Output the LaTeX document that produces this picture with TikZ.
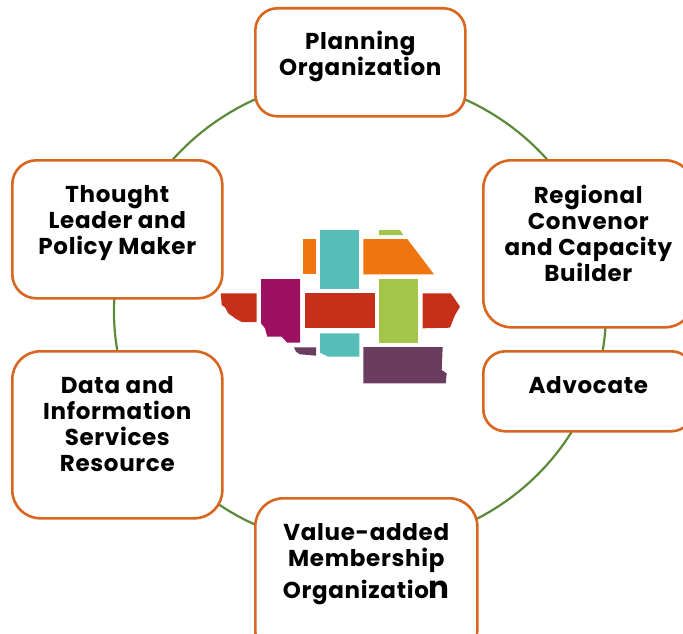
\documentclass[tikz,border=0pt]{standalone}
\usepackage{fontspec}
\setmainfont{Poppins}[BoldFont=Poppins Bold,BoldFeatures={LetterSpace=3}]
\definecolor{edgeorange}{HTML}{D9661F}
\definecolor{ringgreen}{HTML}{5A8A3A}
\definecolor{logored}{HTML}{C62F18}
\definecolor{logopurple}{HTML}{9D1060}
\definecolor{logoteal}{HTML}{57BDB9}
\definecolor{logogreen}{HTML}{A3C64A}
\definecolor{logoorange}{HTML}{F0750F}
\definecolor{logoplum}{HTML}{6A3D60}
\newcommand{\boxtext}[4][25pt]{\parbox[c][#3][t]{#2}{\centering\vspace{#1}\fontsize{23}{26}\selectfont\bfseries #4\par}}
\tikzset{
  x=1pt,y=-1pt,
  rolebox/.style={draw=edgeorange,line width=2.6pt,fill=white,inner sep=0pt,anchor=north west},
  ring/.style={draw=ringgreen,line width=2.2pt}
}
\begin{document}
\begin{tikzpicture}
\useasboundingbox (0,0) rectangle (683,634);
\coordinate (hub) at (360,312);
\draw[ring] (hub) ellipse [x radius=246pt,y radius=235pt];
\node[rolebox,rounded corners=22pt] (planning) at (254,7) {\boxtext[23pt]{210pt}{108pt}{Planning\\Organization}};
\node[rolebox,rounded corners=28pt] (regional) at (482,159) {\boxtext{210pt}{167pt}{Regional\\Convenor\\and Capacity\\Builder}};
\node[rolebox,rounded corners=22pt] (advocate) at (482,350) {\boxtext{210pt}{80pt}{Advocate}};
\node[rolebox,rounded corners=24pt] (thought) at (11,159) {\boxtext{210pt}{138pt}{Thought\\Leader and\\Policy Maker}};
\node[rolebox,rounded corners=28pt] (data) at (11,350) {\boxtext{210pt}{167pt}{Data and\\Information\\Services\\Resource}};
\node[rolebox,rounded corners=28pt] (value) at (254,497) {\boxtext{222pt}{160pt}{Value-added\\Membership\\[6pt]Organizatio{\fontsize{31}{26}\selectfont n}}};
% logo
\fill[logoorange] (302.7,239) rectangle (316,274.3);
\fill[logoteal] (320,230) rectangle (359.3,289);
\fill[logogreen] (379,230) -- (400,230) -- (403.3,235) -- (379,235) -- cycle;
\fill[logoorange] (363.3,239) -- (407.3,239) -- (434,274.3) -- (363.3,274.3) -- cycle;
\fill[logored] (220.7,293.3) -- (256.7,293.3) -- (256.7,322) -- (241.7,322) -- (235,318.3) -- (228.3,313.3) -- (225,307.3) -- (221.7,305) -- cycle;
\fill[logopurple] (261,279) -- (300,279) -- (300,342.7) -- (287.3,342.7) -- (281.7,336.7) -- (267.3,336.7) -- (265,328.3) -- (261,323.3) -- cycle;
\fill[logored] (304.7,293.3) rectangle (374.7,328.3);
\fill[logogreen] (379,279) rectangle (418.3,343);
\fill[logored] (422.7,293.3) -- (450.7,293.3) -- (455,299.3) -- (460,306.7) -- (455,315) -- (450,327.7) -- (422.7,328.3) -- cycle;
\fill[logoplum] (294,347.3) -- (316,347.3) -- (316,355.7) -- (300,354.3) -- (296,351.7) -- cycle;
\fill[logoteal] (320,333.3) -- (359.3,333.3) -- (359.3,356.7) -- (328.3,356.7) -- (320,352.7) -- cycle;
\fill[logoplum] (363.3,347) -- (442.7,347) -- (441.7,370) -- (446.7,373.3) -- (445.7,383.3) -- (363.3,383.3) -- cycle;
\end{tikzpicture}
\end{document}
